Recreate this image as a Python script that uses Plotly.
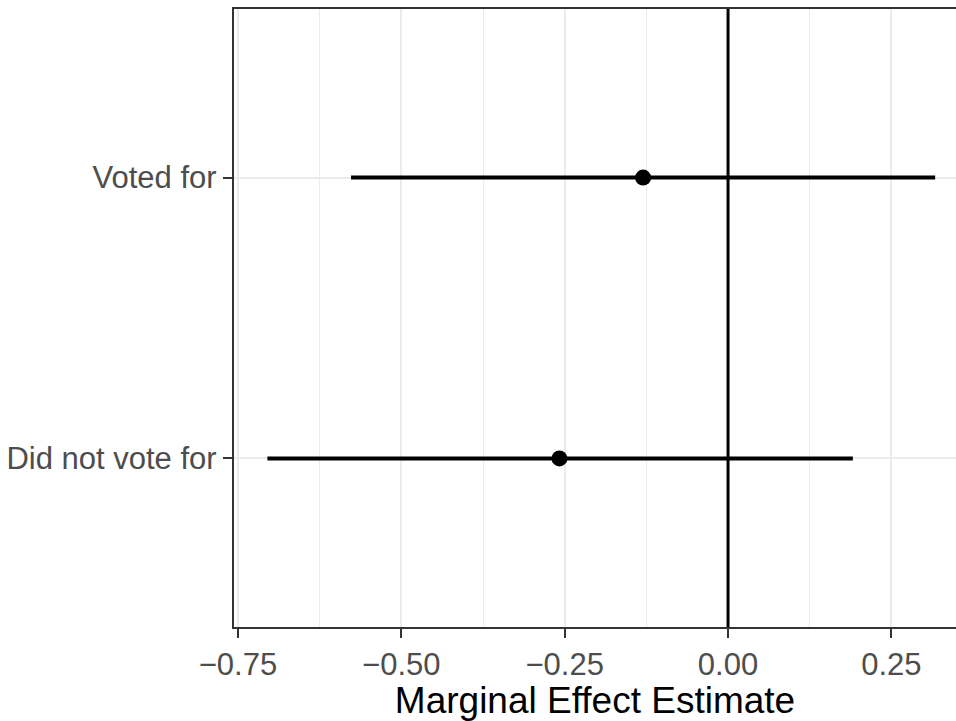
import plotly.graph_objects as go

categories = ["Voted for", "Did not vote for"]
estimates = [-0.130, -0.258]
lower = [-0.577, -0.705]
upper = [0.317, 0.191]

x_ticks = [-0.75, -0.50, -0.25, 0.00, 0.25]

fig = go.Figure()
fig.add_trace(go.Scatter(
    x=estimates, y=categories, mode="markers",
    marker=dict(color="black", size=16),
    error_x=dict(type="data", symmetric=False,
                 array=[u - e for u, e in zip(upper, estimates)],
                 arrayminus=[e - l for e, l in zip(estimates, lower)],
                 color="black", thickness=4, width=0),
    showlegend=False,
))

fig.add_vline(x=0, line=dict(color="black", width=3))

lo = min(lower)
hi = max(upper)
span = hi - lo
x_left = lo - 0.05 * span
px_per_unit = 653.4
x_right = x_left + (956 - 234) / px_per_unit

fig.update_layout(
    width=956, height=721,
    margin=dict(l=234, r=0, t=9, b=94),
    plot_bgcolor="white", paper_bgcolor="white",
    font=dict(family="Liberation Sans, Arial, sans-serif", size=31, color="#4D4D4D"),
    xaxis=dict(
        range=[x_left, x_right],
        tickmode="array", tickvals=x_ticks,
        ticktext=[("\u2212" if v < 0 else "") + f"{abs(v):.2f}" for v in x_ticks],
        showgrid=True, gridcolor="#EBEBEB", gridwidth=2.4,
        minor=dict(tickvals=[-0.625, -0.375, -0.125, 0.125, 0.375], showgrid=True,
                   gridcolor="#EBEBEB", gridwidth=1.2),
        showline=True, linecolor="#333333", linewidth=2.4, mirror=True,
        ticks="outside", ticklen=9, tickwidth=2.4, tickcolor="#333333",
        zeroline=False,
        tickfont=dict(size=31, color="#4D4D4D"),
        title=dict(text="Marginal Effect Estimate", font=dict(size=37, color="black"), standoff=6),
    ),
    yaxis=dict(
        type="category", categoryorder="array", categoryarray=["Did not vote for", "Voted for"],
        range=[-0.6, 1.6],
        showgrid=True, gridcolor="#EBEBEB", gridwidth=2.4,
        showline=True, linecolor="#333333", linewidth=2.4,
        ticks="outside", ticklen=9, tickwidth=2.4, tickcolor="#333333",
        zeroline=False,
        tickfont=dict(size=31, color="#4D4D4D"),
    ),
)

fig.write_html("out.html")
